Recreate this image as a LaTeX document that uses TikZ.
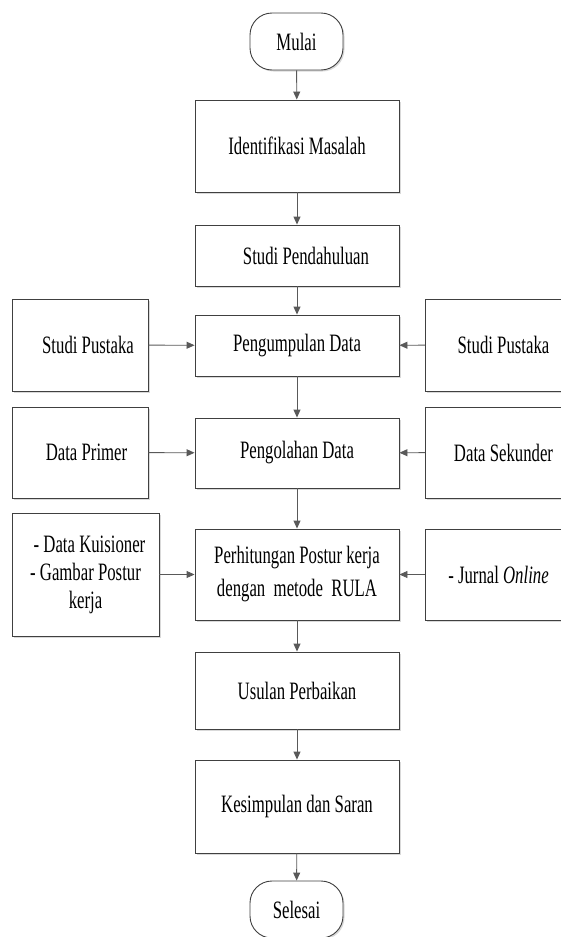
\documentclass[tikz,border=0pt]{standalone}
\usepackage{fontspec}
\setmainfont{Liberation Serif}[FakeStretch=0.67]
\usetikzlibrary{arrows.meta,shadows}
\tikzset{
  box/.style={draw=black!75, fill=white, line width=0.9pt, font=\fontsize{25}{28}\selectfont,
    drop shadow={shadow xshift=1.5pt, shadow yshift=-1.5pt, fill=black!15, opacity=1}},
  mainbox/.style={box, minimum width=204pt},
  sidebox/.style={box, minimum width=136pt, minimum height=92pt},
  terminal/.style={box, rounded corners=22pt, minimum width=93pt, minimum height=57pt}
}
\begin{document}
\begin{tikzpicture}[x=1pt,y=-1pt]
      \useasboundingbox (0,0) rectangle (561,937);
      \draw
        (296.5,41.5) node[terminal] (mulai){Mulai}
        (297,146) node[mainbox, minimum height=92pt] (identifikasi){Identifikasi Masalah}
        (297,255.5) node[mainbox, minimum height=61pt] (pendahuluan){\hspace{18pt}Studi Pendahuluan}
        (297,345.5) node[mainbox, minimum height=61pt] (pengumpulan){Pengumpulan Data}
        (297,453) node[mainbox, minimum height=70pt] (pengolahan){Pengolahan Data}
        (297,574.5) node[mainbox, minimum height=91pt, align=center,
          font=\fontsize{25}{33}\selectfont] (perhitungan){Perhitungan Postur kerja\\dengan\ \ metode\ \ RULA}
        (297,690.5) node[mainbox, minimum height=77pt] (usulan){Usulan Perbaikan}
        (297,806.5) node[mainbox, minimum height=93pt] (kesimpulan){Kesimpulan dan Saran}
        (296.5,909.5) node[terminal] (selesai){Selesai}
        (80,345) node[sidebox] (pustakakiri){\hspace{16pt}Studi Pustaka}
        (495.5,345) node[sidebox, minimum width=140pt] (pustakakanan){\hspace{16pt}Studi Pustaka}
        (80,452.5) node[sidebox, minimum height=91pt] (primer){\hspace{13pt}Data Primer}
        (495.5,452.5) node[sidebox, minimum width=140pt, minimum height=91pt] (sekunder){\hspace{16pt}Data Sekunder}
        (85.5,574.5) node[sidebox, minimum width=147pt, minimum height=123pt, align=center] (kuisioner){\hspace{8pt}- Data Kuisioner\\- Gambar Postur\\kerja}
        (495.5,574.5) node[sidebox, minimum width=140pt, minimum height=91pt] (jurnal){\hspace{6pt}- Jurnal \textit{Online}};
      \begin{scope}[draw=black!65, line width=0.9pt, -{Triangle[length=8pt,width=7pt]}]
        \draw (mulai) to (identifikasi);
        \draw (identifikasi) to (pendahuluan);
        \draw (pendahuluan) to (pengumpulan);
        \draw (pengumpulan) to (pengolahan);
        \draw (pengolahan) to (perhitungan);
        \draw (perhitungan) to (usulan);
        \draw (usulan) to (kesimpulan);
        \draw (kesimpulan) to (selesai);
        \draw (pustakakiri) to (pengumpulan);
        \draw (pustakakanan) to (pengumpulan);
        \draw (primer) to (pengolahan);
        \draw (sekunder) to (pengolahan);
        \draw (kuisioner) to (perhitungan);
        \draw (jurnal) to (perhitungan);
      \end{scope}
    \end{tikzpicture}
\end{document}
